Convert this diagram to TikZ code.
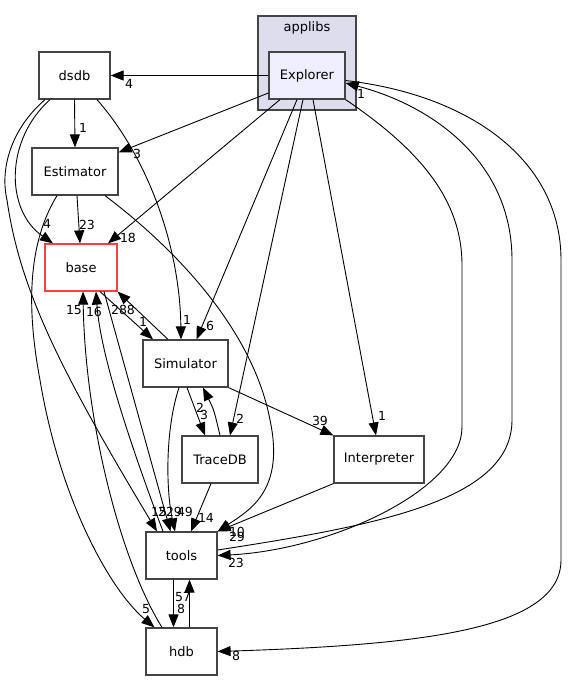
\documentclass[tikz,border=0pt]{standalone}
\usepackage{fontspec}
\setmainfont{DejaVu Sans}
\usepackage{xcolor}
\usepackage{tikz}
\usetikzlibrary{positioning,arrows.meta}
\definecolor{clusterfill}{HTML}{DDDDEE}
\definecolor{explorerfill}{HTML}{EEEEFF}
\definecolor{dirborder}{HTML}{444444}
\definecolor{baseborder}{HTML}{FF4040}
\tikzset{
    dir/.style={draw=dirborder, line width=1.2pt, fill=white, minimum height=47pt, inner sep=0pt, font=\fontsize{13}{15}\selectfont},
    dep/.style={-{Triangle[length=13pt,width=10pt]}, line width=0.9pt},
    num/.style={inner sep=0pt, font=\fontsize{12.5}{14}\selectfont}
}

\begin{document}
\begin{tikzpicture}[x=1pt,y=-1pt]
    \useasboundingbox (0,0) rectangle (569,681);
    \fill[white] (0,0) rectangle (569,681);

    % applibs cluster
    \draw[draw=dirborder, fill=clusterfill, line width=1.2pt] (258,16) rectangle (356,110);
    \node[num, font=\fontsize{13}{15}\selectfont] (applibs) at (307,28) {applibs};

    % Directories
    \node[dir, fill=explorerfill, minimum width=76pt] (explorer) at (307,75.5) {Explorer};
    \node[dir, minimum width=71pt] (dsdb) at (74.5,75.5) {dsdb};
    \node[dir, minimum width=86pt] (estimator) at (75,171.5) {Estimator};
    \node[dir, draw=baseborder, minimum width=72pt] (base) at (81,267.5) {base};
    \node[dir, minimum width=85pt] (simulator) at (185.5,363.5) {Simulator};
    \node[dir, minimum width=76pt] (tracedb) at (220,459.5) {TraceDB};
    \node[dir, minimum width=90pt] (interpreter) at (379,459.5) {Interpreter};
    \node[dir, minimum width=71pt] (tools) at (181.5,555.5) {tools};
    \node[dir, minimum width=71pt] (hdb) at (181.5,651.5) {hdb};

    % Explorer
    \draw[dep] (explorer.west) -- (dsdb.east);
    \draw[dep] ([yshift=-17.5pt]explorer.west) -- ([yshift=-5pt]estimator.north east);
    \draw[dep] ([xshift=-27pt]explorer.south) -- ([xshift=27pt]base.north);
    \draw[dep] ([xshift=-10pt]explorer.south) -- ([xshift=11pt]simulator.north);
    \draw[dep] ([xshift=-4pt]explorer.south) -- ([xshift=10pt]tracedb.north);
    \draw[dep] ([xshift=6pt]explorer.south) -- ([xshift=-3pt]interpreter.north);
    \draw[dep] (explorer.south east) .. controls (420,150) and (462,200) .. (462,265)
        -- (462,427) .. controls (462,490) and (330,550) .. (tools.east);
    \draw[dep] ([yshift=5.5pt]tools.east) .. controls (380,525) and (512,500) .. (512,420)
        -- (512,260) .. controls (512,160) and (430,105) .. ([yshift=-7.5pt]explorer.east);
    \draw[dep] ([yshift=-5pt]explorer.east) .. controls (470,95) and (561,160) .. (561,260)
        -- (561,560) .. controls (561,630) and (420,645) .. (hdb.east);

    % dsdb and Estimator
    \draw[dep] (dsdb.south) -- (estimator.north);
    \draw[dep] ([xshift=-24.5pt]dsdb.south) .. controls (5,140) and (5,210) .. ([xshift=-28pt]base.north);
    \draw[dep] ([xshift=-29.5pt]dsdb.south) .. controls (10,130) and (0,170) .. (7,200)
        .. controls (20,290) and (60,370) .. ([xshift=-24.5pt]tools.north);
    \draw[dep] ([xshift=22.5pt]dsdb.south) .. controls (150,160) and (180,250) .. ([xshift=-4.5pt]simulator.north);
    \draw[dep] ([xshift=2pt]estimator.south) -- ([xshift=-1pt]base.north);
    \draw[dep] ([xshift=30pt]estimator.south) .. controls (190,260) and (255,340) .. (270,420)
        .. controls (285,490) and (250,510) .. (tools.north east);
    \draw[dep] ([xshift=-18pt]estimator.south) .. controls (30,240) and (25,300) .. (40,380)
        .. controls (60,500) and (110,590) .. ([xshift=-27pt]hdb.north);

    % base and Simulator
    \draw[dep] ([xshift=19pt]base.south) -- ([xshift=-32.5pt]simulator.north);
    \draw[dep] ([xshift=-17.5pt]simulator.north) -- (base.south east);
    \draw[dep] ([xshift=23pt]base.south) -- ([xshift=-11pt]tools.north);
    \draw[dep] ([xshift=-18.5pt]tools.north) .. controls (125,430) and (100,350) .. ([xshift=15pt]base.south);
    \draw[dep] ([xshift=-19.5pt]hdb.north) .. controls (120,560) and (85,420) .. ([xshift=2pt]base.south);
    \draw[dep] ([xshift=-6.5pt]simulator.south) .. controls (165,430) and (166,490) .. ([xshift=-6.5pt]tools.north);
    \draw[dep] ([xshift=1.5pt]simulator.south) -- ([xshift=-15pt]tracedb.north);
    \draw[dep] (tracedb.north) .. controls (214,410) .. ([xshift=17.5pt]simulator.south);
    \draw[dep] (simulator.south east) -- (interpreter.north west);

    % TraceDB, Interpreter, tools, hdb
    \draw[dep] ([xshift=-9pt]tracedb.south) -- ([xshift=9.5pt]tools.north);
    \draw[dep] (interpreter.south west) -- (tools.north east);
    \draw[dep] ([xshift=-8pt]tools.south) -- ([xshift=-8pt]hdb.north);
    \draw[dep] ([xshift=8pt]hdb.north) -- ([xshift=8pt]tools.south);

    % edge counts
    \foreach \nm/\x/\y/\val in {e1/129/84/4, e2/137/154/3, e3/128/238/18, e4/210/326/6,
            e5/240/419/2, e6/382/416/1, e7/236/563/23, e8/361/94/1, e9/236/656/8,
            d1/83/128/1, d2/47/224/4, d3/159/512/15, d4/187/320/1,
            s1/87/225/23, s2/237/532/10, s3/146/609/5,
            b1/143/322/1, b2/123/310/288, b3/170/512/229, b4/94/312/16, b5/74/310/15,
            m1/185/512/49, m2/204/415/3, m3/200/408/2, m4/320/421/39,
            t1/206/518/14, t2/237/537/29, h1/181/609/8, h2/183/597/57}
        \node[num] (lbl\nm) at (\x,\y) {\val};
\end{tikzpicture}
\end{document}
